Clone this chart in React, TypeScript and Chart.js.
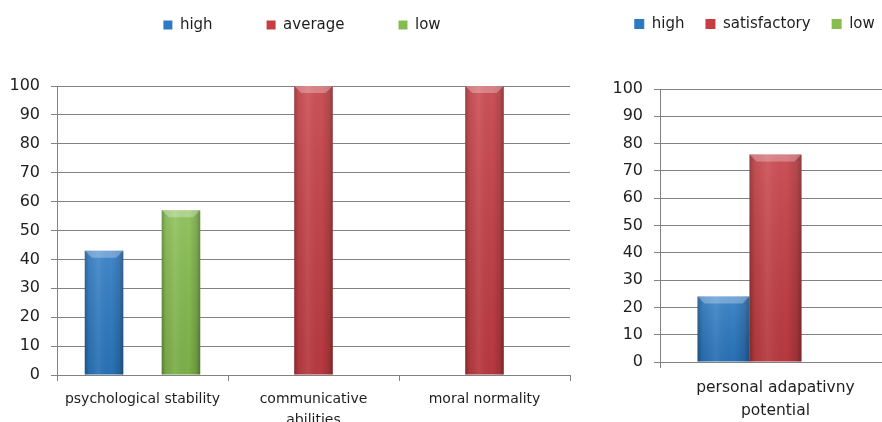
import React, { useEffect, useRef } from 'react';
import { Chart, registerables } from 'chart.js';

Chart.register(...registerables);

// ---- data: left chart ----
const leftCategories = [['psychological stability'], ['communicative', 'abilities'], ['moral normality']];
const leftSeriesNames = ['high', 'average', 'low'];
const leftHigh = [43, null, null];
const leftAverage = [null, 100, 100];
const leftLow = [57, null, null];

// ---- data: right chart ----
const rightCategories = [['personal adapativny', 'potential']];
const rightSeriesNames = ['high', 'satisfactory', 'low'];
const rightHigh = [24];
const rightSatisfactory = [76];
const rightLow = [null];

const yMin = 0;
const yMax = 100;
const yStep = 10;

const BLUE = '#2c7ac4';
const RED = '#c63e44';
const GREEN = '#86bd4f';
const GRID = '#828282';
const TEXT = '#1e1e1e';

const bevelPlugin = {
  id: 'bevel',
  afterDatasetsDraw(chart: any) {
    const ctx = chart.ctx;
    chart.data.datasets.forEach((ds: any, di: number) => {
      const meta = chart.getDatasetMeta(di);
      if (meta.hidden) return;
      meta.data.forEach((el: any, i: number) => {
        const v = ds.data[i];
        if (v == null) return;
        const { x, y, base, width } = el.getProps(['x', 'y', 'base', 'width'], true);
        const left = x - width / 2;
        const right = x + width / 2;
        const top = Math.min(y, base);
        const bottom = Math.max(y, base);
        const h = bottom - top;
        ctx.save();
        const g = ctx.createLinearGradient(left, 0, right, 0);
        g.addColorStop(0, 'rgba(0,0,0,0.30)');
        g.addColorStop(0.1, 'rgba(0,0,0,0.06)');
        g.addColorStop(0.35, 'rgba(255,255,255,0.08)');
        g.addColorStop(0.7, 'rgba(0,0,0,0.0)');
        g.addColorStop(0.9, 'rgba(0,0,0,0.14)');
        g.addColorStop(1, 'rgba(0,0,0,0.34)');
        ctx.fillStyle = g;
        ctx.fillRect(left, top, width, h);
        const gv = ctx.createLinearGradient(0, top, 0, bottom);
        gv.addColorStop(0, 'rgba(255,255,255,0.10)');
        gv.addColorStop(1, 'rgba(0,0,0,0.08)');
        ctx.fillStyle = gv;
        ctx.fillRect(left, top, width, h);
        const b = Math.min(7, h / 2);
        ctx.beginPath();
        ctx.moveTo(left, top);
        ctx.lineTo(right, top);
        ctx.lineTo(right - b, top + b);
        ctx.lineTo(left + b, top + b);
        ctx.closePath();
        ctx.fillStyle = 'rgba(255,255,255,0.28)';
        ctx.fill();
        ctx.restore();
      });
    });
  },
};

// fixes legend block height and shifts it horizontally
const legendTweak = (h: number, dx: number) => ({
  id: 'legendTweak',
  beforeInit(chart: any) {
    const legend = chart.legend;
    if (!legend) return;
    const orig = legend.fit;
    legend.fit = function () {
      orig.call(this);
      this.height = h;
    };
  },
  afterLayout(chart: any) {
    const legend = chart.legend;
    if (!legend) return;
    legend.left += dx;
    legend.right += dx;
  },
});

function makeConfig(opts: {
  labels: any[];
  names: string[];
  series: (number | null)[][];
  legendPad: number;
  legendTop: number;
  legendH: number;
  legendDx: number;
  boxSize: number;
  axisWidth: number;
  xHeight: number;
  xFontSize: number;
  xPad: number;
  padRight: number;
}) {
  const colors = [BLUE, RED, GREEN];
  return {
    type: 'bar' as const,
    data: {
      labels: opts.labels,
      datasets: opts.series.map((d, i) => ({
        label: opts.names[i],
        data: d,
        backgroundColor: colors[i],
        borderWidth: 0,
        categoryPercentage: 0.675,
        barPercentage: 1,
      })),
    },
    options: {
      responsive: false,
      animation: false as const,
      devicePixelRatio: 1,
      layout: { padding: { top: opts.legendTop, right: opts.padRight, left: 0, bottom: 0 } },
      plugins: {
        tooltip: { enabled: false },
        legend: {
          position: 'top' as const,
          labels: {
            boxWidth: opts.boxSize,
            boxHeight: opts.boxSize,
            padding: opts.legendPad,
            color: TEXT,
            font: { family: 'DejaVu Sans', size: 15 },
          },
        },
      },
      scales: {
        x: {
          grid: {
            display: true,
            offset: true,
            drawOnChartArea: false,
            drawTicks: true,
            tickLength: 6,
            color: GRID,
          },
          border: { display: true, color: GRID },
          ticks: {
            color: TEXT,
            padding: opts.xPad,
            maxRotation: 0,
            autoSkip: false,
            font: { family: 'DejaVu Sans', size: opts.xFontSize, lineHeight: 1.5 },
          },
          afterFit: (s: any) => {
            s.height = opts.xHeight;
          },
        },
        y: {
          min: yMin,
          max: yMax,
          ticks: {
            stepSize: yStep,
            color: TEXT,
            padding: 11,
            font: { family: 'DejaVu Sans', size: 16 },
          },
          grid: { color: GRID, tickLength: 6, lineWidth: 1 },
          border: { display: true, color: GRID },
          afterFit: (s: any) => {
            s.width = opts.axisWidth;
          },
        },
      },
    },
    plugins: [bevelPlugin, legendTweak(opts.legendH, opts.legendDx)],
  };
}

export default function App() {
  const leftRef = useRef<HTMLCanvasElement>(null);
  const rightRef = useRef<HTMLCanvasElement>(null);

  useEffect(() => {
    const left = new Chart(
      leftRef.current as HTMLCanvasElement,
      makeConfig({
        labels: leftCategories,
        names: leftSeriesNames,
        series: [leftHigh, leftAverage, leftLow],
        legendPad: 54,
        legendTop: -36.5,
        legendH: 122.5,
        legendDx: 17,
        boxSize: 9,
        axisWidth: 57,
        xHeight: 65,
        xFontSize: 14,
        xPad: 8,
        padRight: 35,
      }) as any
    );
    const right = new Chart(
      rightRef.current as HTMLCanvasElement,
      makeConfig({
        labels: rightCategories,
        names: rightSeriesNames,
        series: [rightHigh, rightSatisfactory, rightLow],
        legendPad: 21,
        legendTop: -4.5,
        legendH: 93.5,
        legendDx: 9,
        boxSize: 10,
        axisWidth: 60,
        xHeight: 78,
        xFontSize: 15.5,
        xPad: 8,
        padRight: 18,
      }) as any
    );
    return () => {
      left.destroy();
      right.destroy();
    };
  }, []);

  return (
    <div
      style={{
        position: 'fixed',
        left: 0,
        top: 0,
        width: 882,
        height: 422,
        overflow: 'hidden',
        background: '#ffffff',
      }}
    >
      <canvas ref={leftRef} width={605} height={440} style={{ position: 'absolute', left: 0, top: 0 }} />
      <canvas ref={rightRef} width={309} height={440} style={{ position: 'absolute', left: 600, top: 0 }} />
    </div>
  );
}
